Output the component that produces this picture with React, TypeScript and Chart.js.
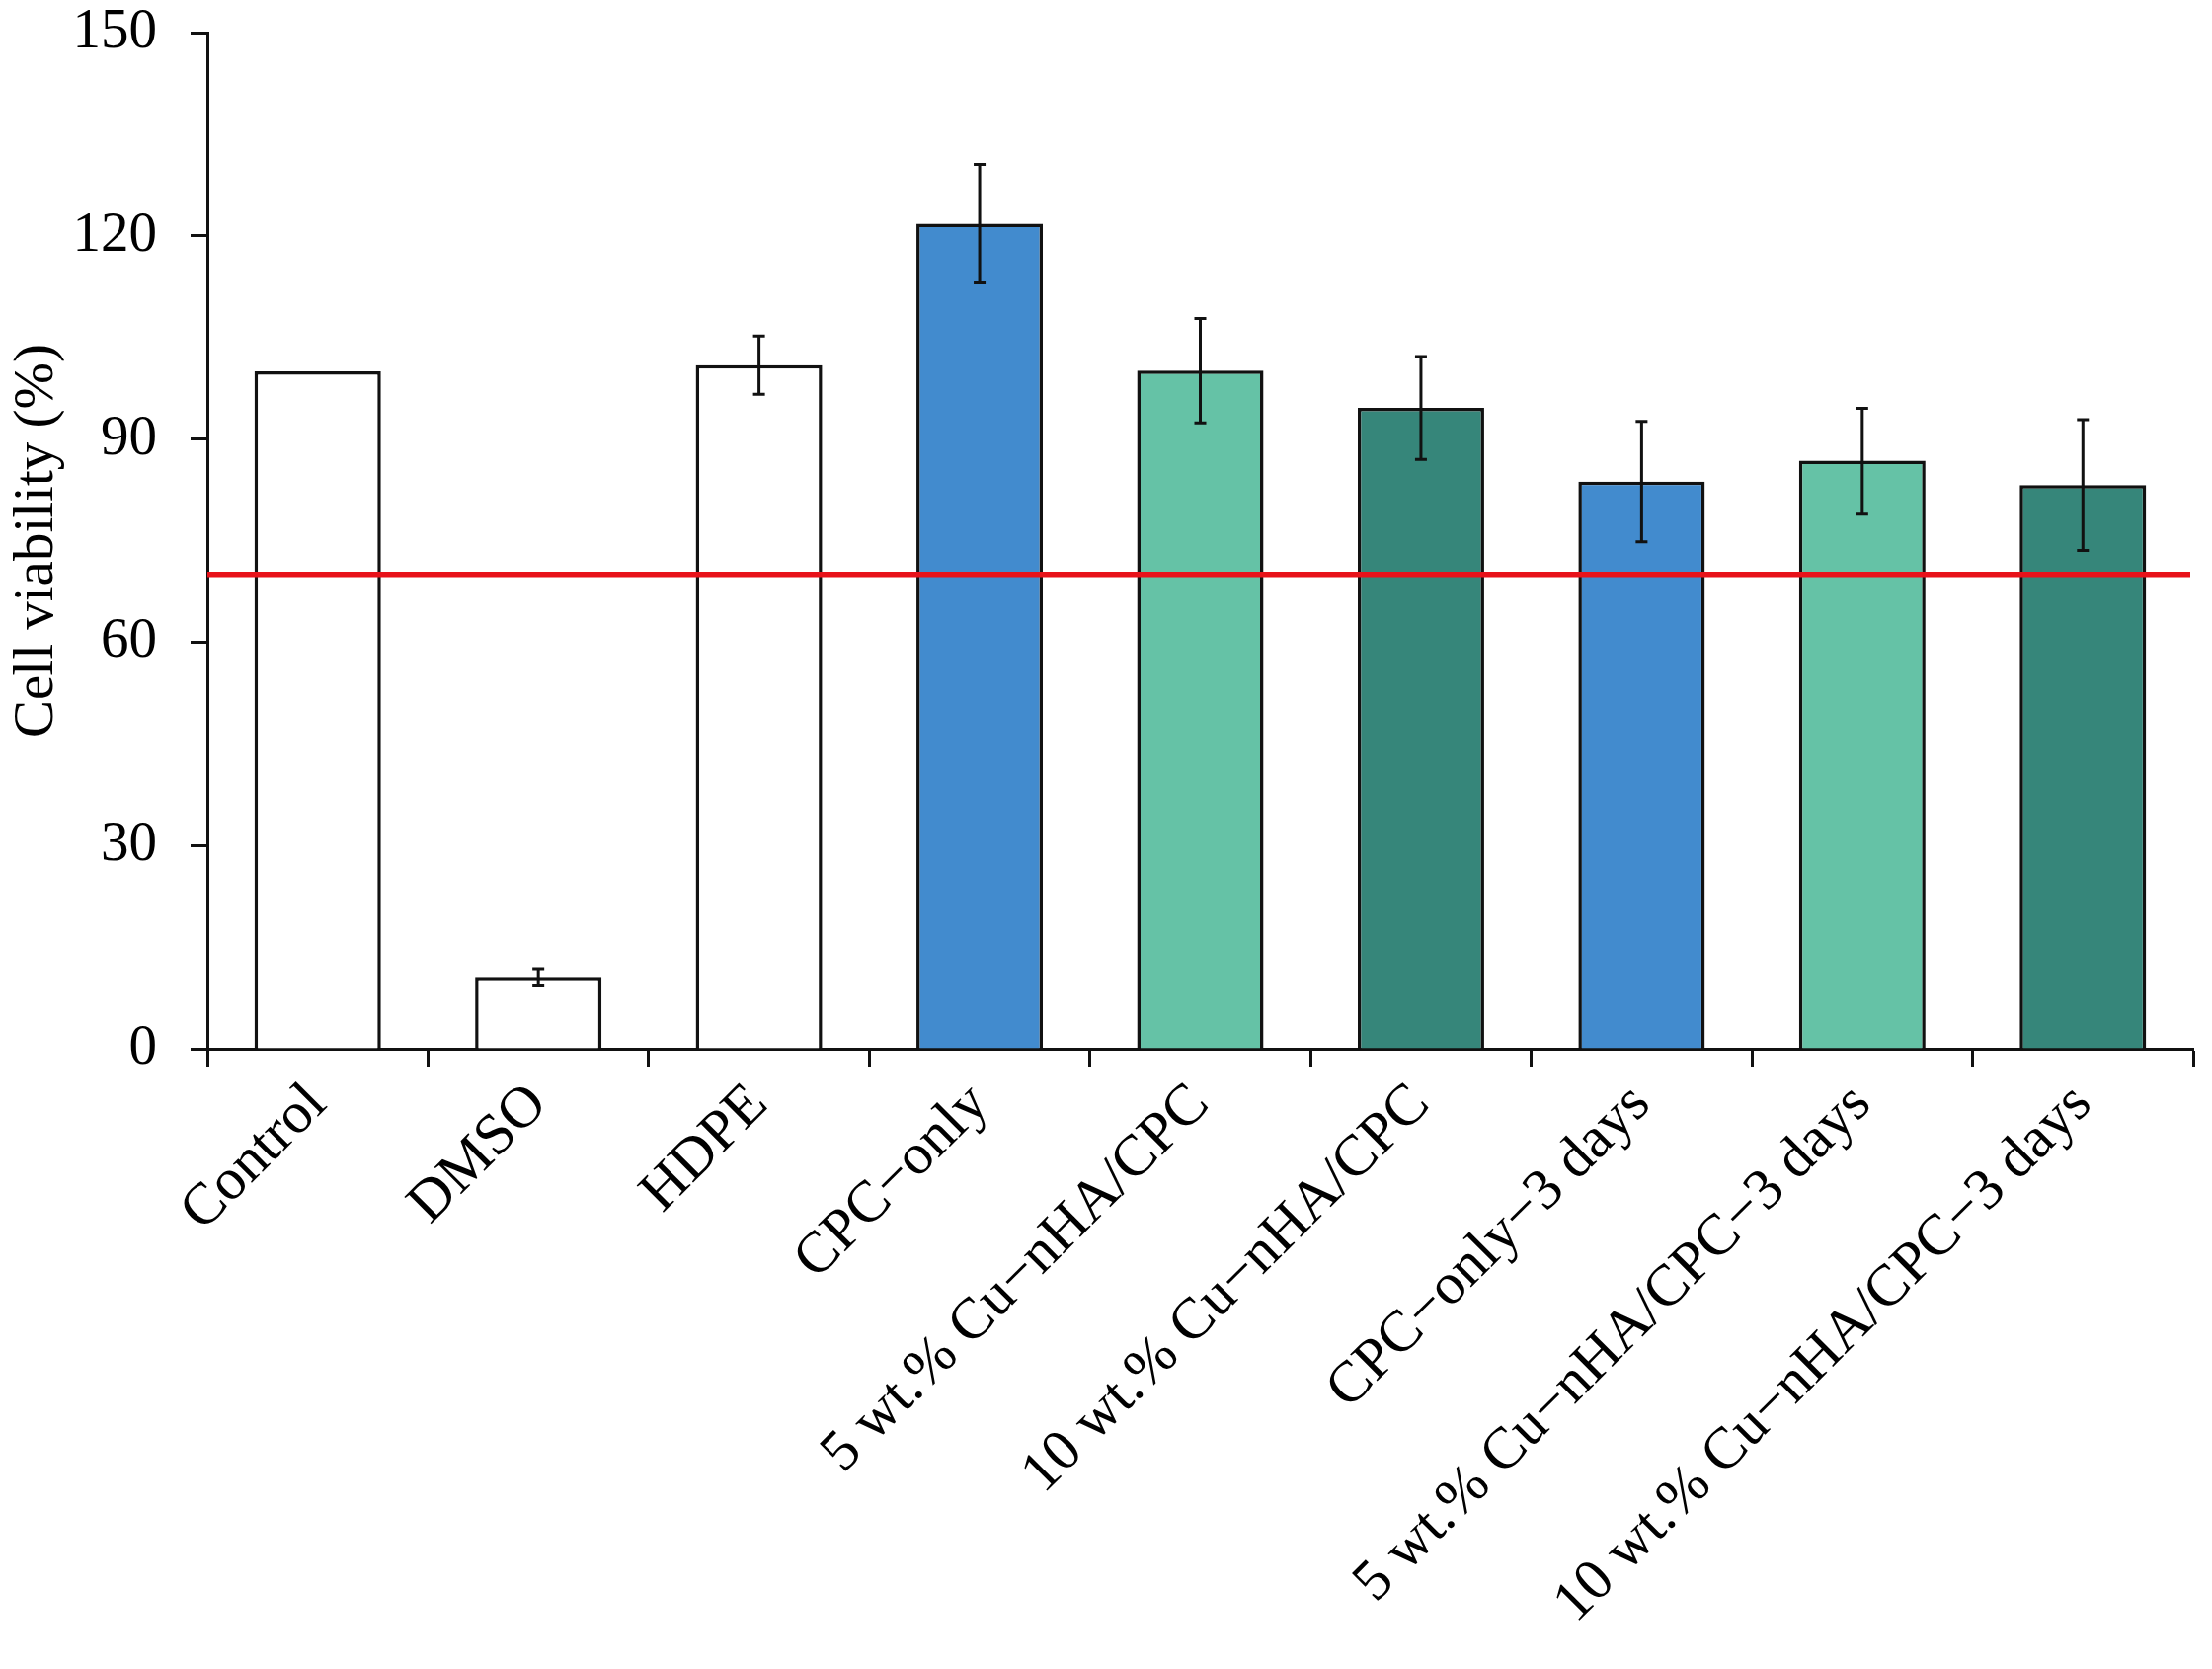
import { useEffect, useRef } from "react";
import { Chart, registerables } from "chart.js";

Chart.register(...registerables);

const labels = [
  "Control",
  "DMSO",
  "HDPE",
  "CPC−only",
  "5 wt.% Cu−nHA/CPC",
  "10 wt.% Cu−nHA/CPC",
  "CPC−only−3 days",
  "5 wt.% Cu−nHA/CPC−3 days",
  "10 wt.% Cu−nHA/CPC−3 days",
];
const viability = [100, 10.6, 100.9, 121.8, 100.1, 94.6, 83.7, 86.8, 83.2];
const errors = [0, 1.2, 4.3, 8.75, 7.7, 7.6, 8.9, 7.75, 9.65];
const fills = ["#ffffff", "#ffffff", "#ffffff", "#428bce", "#65c2a6", "#36867a", "#428bce", "#65c2a6", "#36867a"];
const threshold = 70;
const yTicks = [0, 30, 60, 90, 120, 150];

const FONT = "'Liberation Serif', 'Times New Roman', serif";

// red cut-off line + error bars, drawn on top of the bars
const overlayPlugin = {
  id: "overlay",
  afterDatasetsDraw(chart: any) {
    const { ctx, chartArea } = chart;
    const y = chart.scales.y;
    const ty = y.getPixelForValue(threshold);
    ctx.save();
    ctx.strokeStyle = "#e8121a";
    ctx.lineWidth = 5.5;
    ctx.beginPath();
    ctx.moveTo(chartArea.left, ty);
    ctx.lineTo(chartArea.right - 3, ty);
    ctx.stroke();

    const meta = chart.getDatasetMeta(0);
    ctx.strokeStyle = "#111";
    ctx.lineWidth = 3;
    meta.data.forEach((bar: any, i: number) => {
      const e = errors[i];
      if (!e) return;
      const hi = y.getPixelForValue(viability[i] + e);
      const lo = y.getPixelForValue(viability[i] - e);
      ctx.beginPath();
      ctx.moveTo(bar.x, hi);
      ctx.lineTo(bar.x, lo);
      ctx.moveTo(bar.x - 6, hi);
      ctx.lineTo(bar.x + 6, hi);
      ctx.moveTo(bar.x - 6, lo);
      ctx.lineTo(bar.x + 6, lo);
      ctx.stroke();
    });
    ctx.restore();
  },
};

export default function App() {
  const canvasRef = useRef<HTMLCanvasElement>(null);

  useEffect(() => {
    document.body.style.margin = "0";
    if (!canvasRef.current) return;
    const chart = new Chart(canvasRef.current, {
      type: "bar",
      data: {
        labels,
        datasets: [
          {
            data: viability,
            backgroundColor: fills,
            borderColor: "#111",
            borderWidth: 3.5,
            categoryPercentage: 1,
            barPercentage: 0.573,
          },
        ],
      },
      options: {
        responsive: false,
        devicePixelRatio: 1,
        animation: false,
        layout: { padding: { top: 0, right: 19, bottom: 0, left: 0 } },
        plugins: { legend: { display: false }, tooltip: { enabled: false } },
        scales: {
          x: {
            grid: { drawOnChartArea: false, tickLength: 18, tickWidth: 3, tickColor: "#111", offset: true },
            border: { color: "#111", width: 3 },
            ticks: {
              color: "#000",
              font: { family: FONT, size: 59 },
              maxRotation: 45,
              minRotation: 45,
              autoSkip: false,
              padding: 4,
            },
            afterFit: (s: any) => {
              s.height = 628;
            },
          },
          y: {
            min: 0,
            max: 150,
            afterBuildTicks: (s: any) => {
              s.ticks = yTicks.map((v) => ({ value: v }));
            },
            grid: { drawOnChartArea: false, tickLength: 17, tickWidth: 3, tickColor: "#111" },
            border: { color: "#111", width: 3 },
            ticks: { color: "#000", font: { family: FONT, size: 57 }, padding: 34 },
            title: {
              display: true,
              text: "Cell viability (%)",
              color: "#000",
              font: { family: FONT, size: 57 },
              padding: { top: 4, bottom: 0 },
            },
            afterFit: (s: any) => {
              s.width = 210;
              s.paddingTop = 33;
              s.paddingBottom = 0;
            },
          },
        },
      },
      plugins: [overlayPlugin],
    });
    return () => chart.destroy();
  }, []);

  return (
    <div style={{ width: 2240, height: 1690, background: "#fff" }}>
      <canvas ref={canvasRef} width={2240} height={1690} />
    </div>
  );
}
